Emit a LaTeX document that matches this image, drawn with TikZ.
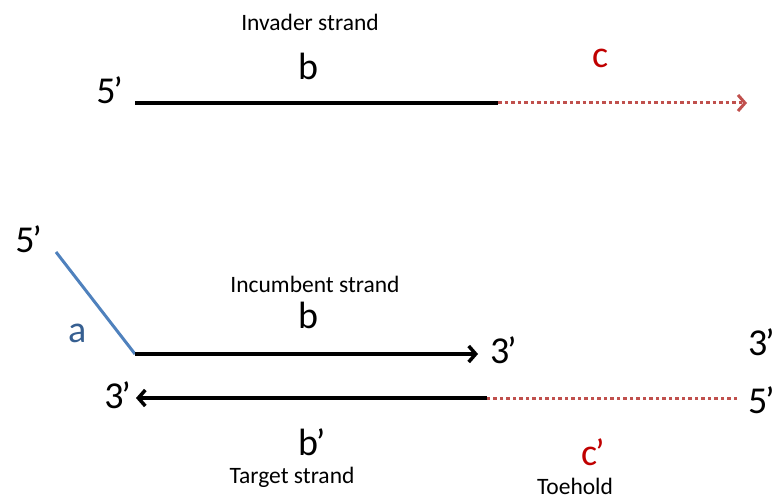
\documentclass[tikz,border=0pt]{standalone}
\usepackage{fontspec}
\setmainfont{Carlito}
\usetikzlibrary{arrows.meta}
\usetikzlibrary{positioning}

\definecolor{toered}{RGB}{192,80,77}
\definecolor{labred}{RGB}{192,0,0}
\definecolor{ablue}{RGB}{79,129,189}
\definecolor{adark}{RGB}{54,95,145}

% tight prime after a strand end or segment name
\newcommand{\prm}{\kern-0.06em’}

\begin{document}
\begin{tikzpicture}[x=1pt,y=-1pt,
   strand/.style={line width=3.5pt},
   toe/.style={line width=3pt,toered,dash pattern=on 3.5pt off 3pt},
   barb/.style={-{Straight Barb[length=7pt,width=16pt]}},
   biglbl/.style={font=\fontsize{38}{38}\selectfont, inner sep=0pt},
   namelbl/.style={font=\fontsize{23.5}{24}\selectfont, inner sep=0pt, anchor=base}]
   \useasboundingbox (0,0) rectangle (778,500);

   % invader strand
   \coordinate (inv_s) at (135,103);
   \coordinate (inv_m) at (498,103);
   \coordinate (inv_e) at (747,103);
   \draw[strand] (inv_s) -- (inv_m);
   \draw[toe,barb] (inv_m) -- (inv_e);
   \node[biglbl, anchor=base east] (inv_5) at (123,103) {5\prm};
   \node[biglbl, anchor=base west] (inv_b) at (298,80) {b};
   \node[namelbl] (inv_name) at (310,31) {Invader strand};
   \node[biglbl, anchor=base west, labred] (inv_c) at (592,68) {c};

   % incumbent strand
   \coordinate (inc_a) at (56,252);
   \coordinate (inc_s) at (135,354);
   \coordinate (inc_e) at (478,354);
   \draw[line width=3pt, ablue] (inc_a) -- (inc_s);
   \draw[strand,barb] (inc_s) -- (inc_e);
   \node[biglbl, anchor=base east] (inc_5) at (42,252) {5\prm};
   \node[biglbl, anchor=base west, adark] (inc_la) at (68,342) {a};
   \node[namelbl] (inc_name) at (315,292) {Incumbent strand};
   \node[biglbl, anchor=base west] (inc_b) at (298,328) {b};
   \node[biglbl, anchor=base west] (inc_3) at (490,363) {3\prm};

   % target strand
   \coordinate (tgt_s) at (737,398);
   \coordinate (tgt_m) at (487,398);
   \coordinate (tgt_e) at (136,398);
   \draw[toe] (tgt_s) -- (tgt_m);
   \draw[strand,barb] (tgt_m) -- (tgt_e);
   \node[biglbl, anchor=base east] (tgt_3) at (131,408) {3\prm};
   \node[biglbl, anchor=base west] (tgt_5) at (748,413) {5\prm};
   \node[biglbl, anchor=base west] (tgt_3r) at (748,355) {3\prm};
   \node[biglbl, anchor=base west] (tgt_b) at (298,455) {b\prm};
   \node[namelbl] (tgt_name) at (292,483) {Target strand};
   \node[biglbl, anchor=base west, labred] (tgt_c) at (581,465) {c\prm};
   \node[namelbl] (tgt_toe) at (575,494) {Toehold};
\end{tikzpicture}
\end{document}
